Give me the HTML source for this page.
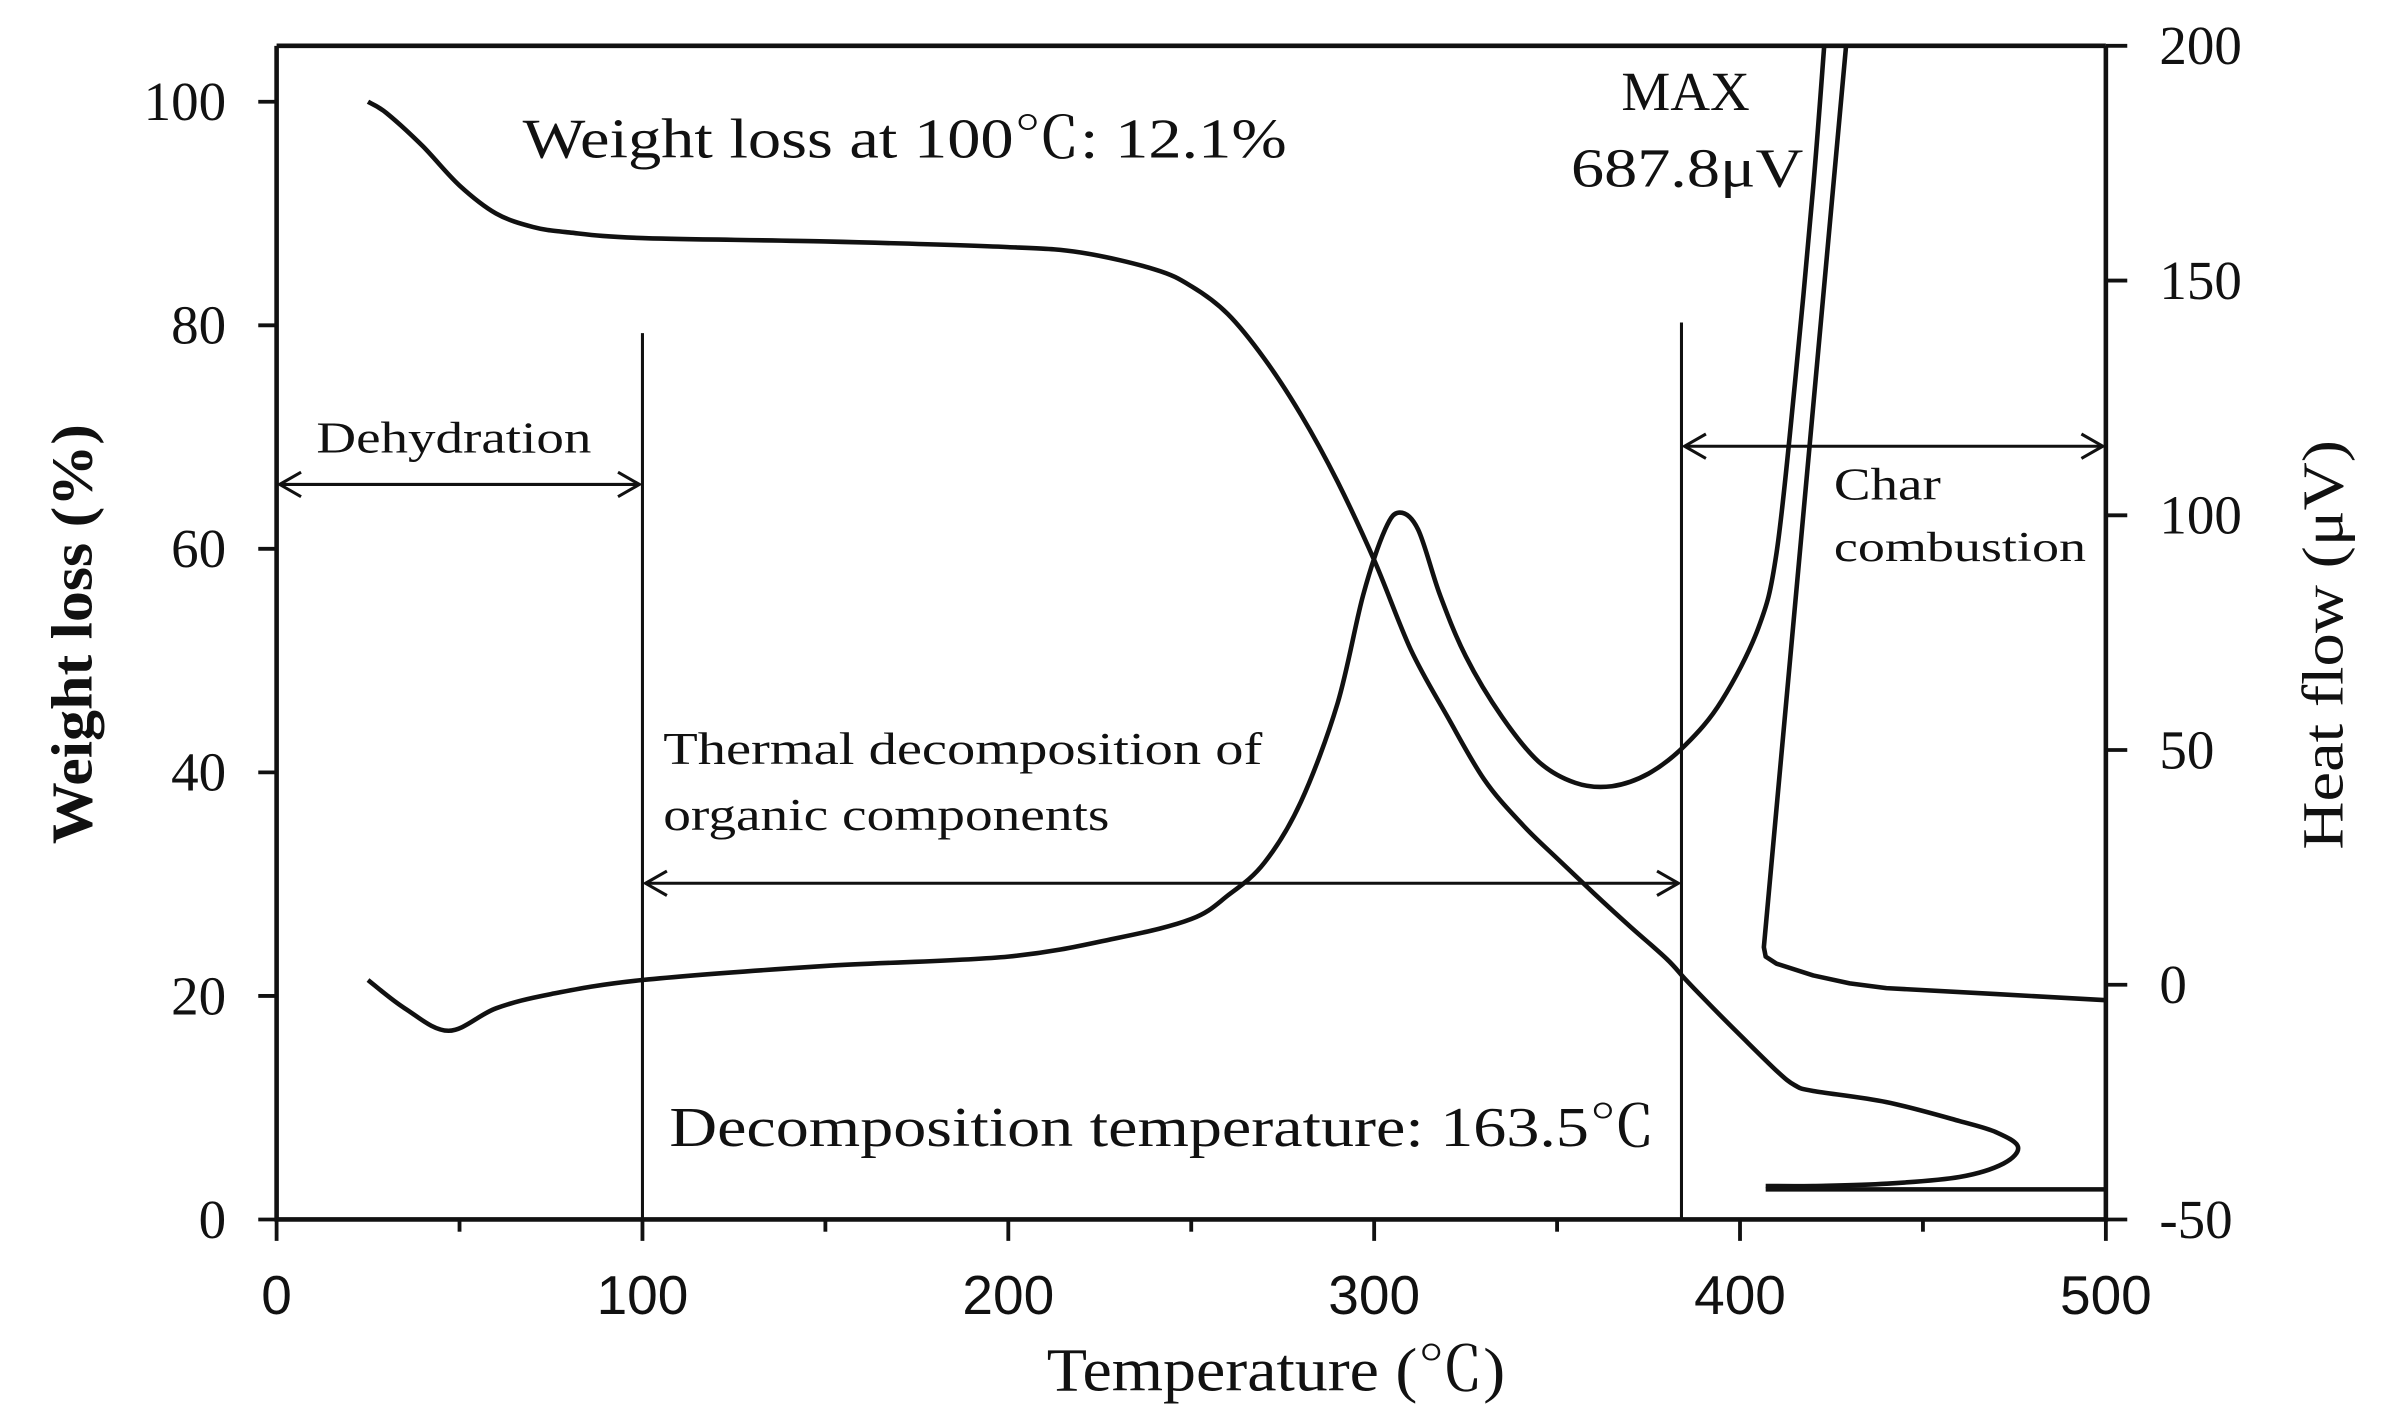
<!DOCTYPE html>
<html><head><meta charset="utf-8"><style>
html,body{margin:0;padding:0;background:#fff;}
svg{display:block;}
.serif{font-family:"Liberation Serif","Noto Serif CJK SC",serif;}
.sans{font-family:"Liberation Sans","Noto Sans CJK JP",sans-serif;}
</style></head><body>
<svg id="chart" width="2384" height="1416" viewBox="0 0 1560 926.6" preserveAspectRatio="none" xmlns="http://www.w3.org/2000/svg">
<g id="axes"></g>
<g id="marks"></g>
<g id="annot" fill="#111">
<text class="serif" x="342" y="103" font-size="37" textLength="500" lengthAdjust="spacingAndGlyphs">Weight loss at 100℃: 12.1%</text>
<text class="serif" x="1103" y="72" font-size="36" text-anchor="middle">MAX</text>
<text class="serif" x="1104" y="122" font-size="36" text-anchor="middle" textLength="152" lengthAdjust="spacingAndGlyphs">687.8μV</text>
<text class="serif" x="207" y="296" font-size="29" textLength="180" lengthAdjust="spacingAndGlyphs">Dehydration</text>
<text class="serif" x="434" y="500" font-size="30" textLength="392" lengthAdjust="spacingAndGlyphs">Thermal decomposition of</text>
<text class="serif" x="434" y="543" font-size="30" textLength="292" lengthAdjust="spacingAndGlyphs">organic components</text>
<text class="serif" x="1200" y="327" font-size="30" textLength="70" lengthAdjust="spacingAndGlyphs">Char</text>
<text class="serif" x="1200" y="367" font-size="28" textLength="165" lengthAdjust="spacingAndGlyphs">combustion</text>
<text class="serif" x="438" y="750" font-size="37" textLength="645" lengthAdjust="spacingAndGlyphs">Decomposition temperature: 163.5℃</text>
<text class="serif" x="835" y="910" font-size="40" text-anchor="middle" textLength="300" lengthAdjust="spacingAndGlyphs">Temperature (℃)</text>
<text class="serif" font-weight="bold" font-size="38" text-anchor="middle" transform="translate(60,415) rotate(-90)" textLength="275" lengthAdjust="spacingAndGlyphs">Weight loss (%)</text>
<text class="serif" font-size="38" text-anchor="middle" transform="translate(1533,422) rotate(-90)" textLength="268" lengthAdjust="spacingAndGlyphs">Heat flow (μV)</text>
</g>
</svg>
<script>
const tgTemp=[25,30,40,50,60,70,80,100,150,200,220,240,250,260,270,280,290,300,310,320,330,340,350,360,370,380,385,390,400,410,415,420,440,460,470,476,472,460,440,420,407];
const tgWeight=[100,99,96,92.5,90,88.8,88.3,87.8,87.5,87,86.5,85,83.5,81,77,72,66,59,51,45,39.4,35.5,32.3,29.2,26.2,23.3,21.5,19.8,16.5,13.3,12,11.5,10.5,8.8,7.8,6.5,5.0,3.8,3.2,3.0,3.0];
const baseTemp=[407,500];
const baseWeight=[2.7,2.7];
const dtaTemp=[25,35,47,60,75,100,150,200,230,250,260,270,280,290,297,303,307,312,318,325,335,345,355,365,375,385,395,405,410,415,420,423];
const dtaFlow=[1,-5,-9.8,-5,-2,1,4,6,10,14,19,26,39,60,83,97,100.6,97,83,70,57,47.5,43,42.3,45,51,60.5,76,92,128,170,200];
const dta2Temp=[429,406.5,407,410,420,430,440,470,500];
const dta2Flow=[200,8,6,4.5,2,0.3,-0.7,-2,-3.3];
const xTicks=[0,100,200,300,400,500];
const xMinor=[50,150,250,350,450];
const yLeftTicks=[0,20,40,60,80,100];
const yRightTicks=[-50,0,50,100,150,200];

const L=181,R=1378,T=30,B=798;
const sx=v=>L+(v-0)/500*(R-L);
const syL=v=>B-v/105*(B-T);
const syR=v=>B-(v+50)/250*(B-T);
const NS='http://www.w3.org/2000/svg';
function mk(tag,attrs,parent){const e=document.createElementNS(NS,tag);for(const k in attrs)e.setAttribute(k,attrs[k]);parent.appendChild(e);return e;}
const ax=document.getElementById('axes'),mg=document.getElementById('marks'),an=document.getElementById('annot');

let e;
e=mk('path',{d:`M${L},${T}H${R}M${L},${T}V${B}H${R}V${T}`,stroke:'#111','stroke-width':3,fill:'none'},ax);


xTicks.forEach(v=>{
  e=mk('line',{x1:sx(v),x2:sx(v),y1:B,y2:B+14,stroke:'#111','stroke-width':2.5},ax);
  
  
  e=mk('text',{x:sx(v),y:860,'font-size':36,'text-anchor':'middle',class:'sans',fill:'#111'},ax);
  e.textContent=v;
  
  
});
xMinor.forEach(v=>{
  e=mk('line',{x1:sx(v),x2:sx(v),y1:B,y2:B+8,stroke:'#111','stroke-width':2.5},ax);
  
  
});
yLeftTicks.forEach(v=>{
  e=mk('line',{x1:L-12,x2:L,y1:syL(v),y2:syL(v),stroke:'#111','stroke-width':2.5},ax);
  
  
  e=mk('text',{x:148,y:syL(v)+12,'font-size':36,'text-anchor':'end',class:'serif',fill:'#111'},ax);
  e.textContent=v;
  
  
});
yRightTicks.forEach(v=>{
  e=mk('line',{x1:R,x2:R+14,y1:syR(v),y2:syR(v),stroke:'#111','stroke-width':2.5},ax);
  
  
  e=mk('text',{x:1413,y:syR(v)+12,'font-size':36,class:'serif',fill:'#111'},ax);
  e.textContent=v;
  
  
});
function line(xs,ys,fy,name,smooth){
  const P=xs.map((x,i)=>[sx(x),fy(ys[i])]);
  let d='M'+P[0][0].toFixed(1)+','+P[0][1].toFixed(1);
  for(let i=0;i<P.length-1;i++){
    if(!smooth){d+='L'+P[i+1][0].toFixed(1)+','+P[i+1][1].toFixed(1);continue;}
    const p0=P[Math.max(0,i-1)],p1=P[i],p2=P[i+1],p3=P[Math.min(P.length-1,i+2)];
    const c1=[p1[0]+(p2[0]-p0[0])/6,p1[1]+(p2[1]-p0[1])/6];
    const c2=[p2[0]-(p3[0]-p1[0])/6,p2[1]-(p3[1]-p1[1])/6];
    d+='C'+c1.map(v=>v.toFixed(1)).join(',')+' '+c2.map(v=>v.toFixed(1)).join(',')+' '+p2[0].toFixed(1)+','+p2[1].toFixed(1);
  }
  const p=mk('path',{d:d,stroke:'#111','stroke-width':3,fill:'none','stroke-linejoin':'round'},mg);
  
  
}
line(tgTemp,tgWeight,syL,'tg-curve',true);
line(baseTemp,baseWeight,syL,'tg-residue-line',false);
line(dtaTemp,dtaFlow,syR,'dta-curve',true);
line(dta2Temp,dta2Flow,syR,'dta-curve-return',false);
[[100,218],[384,211]].forEach(([t,y0])=>{
  e=mk('line',{x1:sx(t),x2:sx(t),y1:y0,y2:B,stroke:'#111','stroke-width':2},an);
  
  
});
function arrow(x1,x2,y,name){
  const g=mk('g',{stroke:'#111','stroke-width':2,fill:'none'},an);
  
  
  mk('line',{x1:x1+2,x2:x2-2,y1:y,y2:y},g);
  mk('path',{d:`M${x1+16},${y-8}L${x1+2},${y}L${x1+16},${y+8}M${x2-16},${y-8}L${x2-2},${y}L${x2-16},${y+8}`},g);
}
arrow(sx(0),sx(100),317,'dehydration-arrow');
arrow(sx(100),sx(384),578,'thermal-decomposition-arrow');
arrow(sx(384),sx(500),292,'char-combustion-arrow');
</script>
</body></html>
